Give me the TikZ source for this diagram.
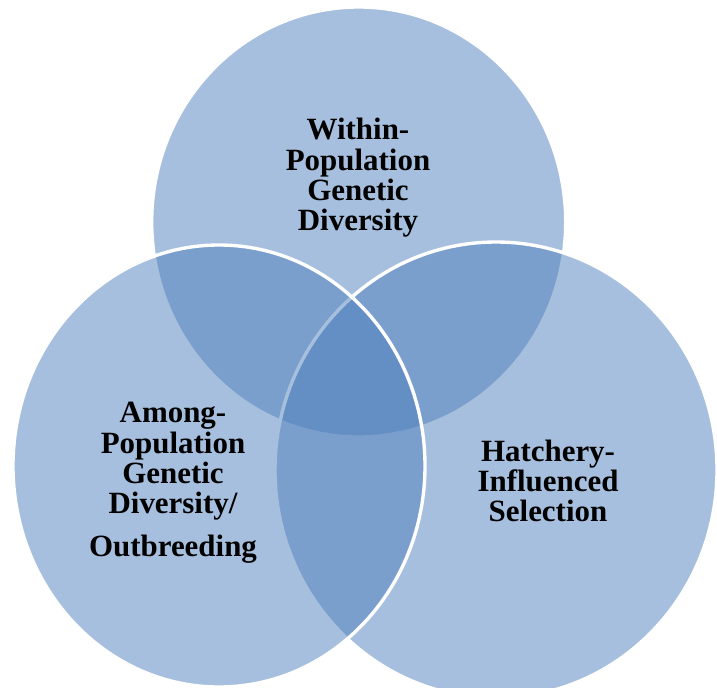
\documentclass[tikz,border=0pt]{standalone}
\usepackage{fontspec}
\setmainfont{Liberation Serif}
\usepackage{tikz}

\definecolor{vennblue}{RGB}{79,128,189}

\begin{document}
\begin{tikzpicture}[x = 0.025cm, y = 0.025cm,
				set/.style = {fill = vennblue, fill opacity = 0.5,
				draw = white, line width = 2.4pt},
				tag/.style = {align = center, text = black,
				font = \bfseries\fontsize{22}{21.6}\selectfont}]

	\useasboundingbox (0,0) rectangle (717,687);
	\clip (0,0) rectangle (717,687);

	% top, right, left: the last one lies over the others
	\draw [set] (358.7,465) ellipse [x radius = 207, y radius = 215];
	\draw [set] (496,217) ellipse [x radius = 221, y radius = 228];
	\draw [set] (219,221) ellipse [x radius = 206, y radius = 221];

	\node [tag] (within) at (358,509) {Within-\\Population\\Genetic\\Diversity};
	\node [tag] (among) at (173,204) {Among-\\Population\\Genetic\\Diversity/\\[9pt]Outbreeding};
	\node [tag] (hatchery) at (548,206) {Hatchery-\\Influenced\\Selection};
\end{tikzpicture}
\end{document}
